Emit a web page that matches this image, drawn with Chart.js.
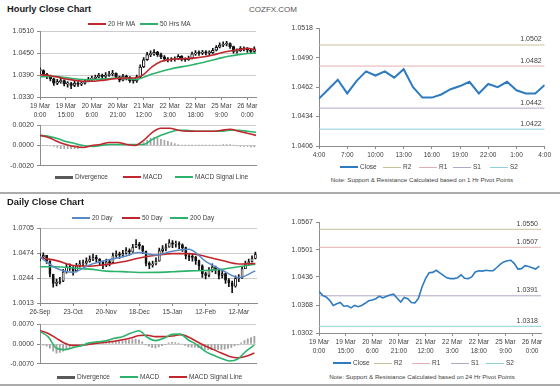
<!DOCTYPE html>
<html>
<head>
<meta charset="utf-8">
<script src="https://cdn.jsdelivr.net/npm/chart.js@4.4.1/dist/chart.umd.min.js"></script>
<style>
body { margin: 0; background: #fff; font-family: "Liberation Sans", Arial, sans-serif; }
#page { position: relative; width: 560px; height: 386px; overflow: hidden; }
canvas { position: absolute; }
.title { position: absolute; font-weight: bold; font-size: 9.3px; color: #1a1a1a; line-height: 10px; }
.brand { position: absolute; font-size: 8px; color: #555; line-height: 10px; }
.legend { position: absolute; font-size: 6.5px; color: #404040; line-height: 8px; height: 8px; }
.legend .it { position: absolute; top: 0; display: flex; align-items: center; height: 8px; white-space: nowrap; }
.legend .sw { display: inline-block; width: 18px; margin-right: 2px; }
.note { position: absolute; font-size: 6.2px; color: #404040; white-space: nowrap; transform: translateX(-50%); line-height: 8px; }
.sep { position: absolute; left: 0; width: 560px; height: 2px; background: #ababab; }
</style>
</head>
<body>
<div id="page">
  <div class="title" style="left:7px;top:4px">Hourly Close Chart</div>
  <div class="brand" style="left:249px;top:5px">COZFX.COM</div>
  <canvas id="cA" width="262" height="96" style="left:0;top:24px"></canvas>
  <canvas id="cA2" width="262" height="55" style="left:0;top:118px"></canvas>
  <canvas id="cB" width="283" height="139" style="left:270px;top:21px"></canvas>
  <div class="sep" style="top:192px"></div>
  <div class="title" style="left:7px;top:197px">Daily Close Chart</div>
  <canvas id="cC" width="262" height="96" style="left:0;top:221px"></canvas>
  <canvas id="cC2" width="262" height="54" style="left:0;top:317px"></canvas>
  <canvas id="cD" width="279" height="141" style="left:270px;top:215px"></canvas>
  <div class="note" style="left:422px;top:176px">Note: Support &amp; Resistance Calculated based on 1 Hr Pivot Points</div>
  <div class="note" style="left:422px;top:373px">Note: Support &amp; Resistance Calculated based on 24 Hr Pivot Points</div>
  <div class="sep" style="top:384px"></div>
</div>
<script>
"use strict";

// 時間足（2時間ごと、19 Mar 0:00 起点）
const hourStep = 2;
const hourClose = [1.0402, 1.0392, 1.0388, 1.0380, 1.0368, 1.0372, 1.0375, 1.0366, 1.0367, 1.0362,
    1.0368, 1.0365, 1.0368, 1.0373, 1.0379, 1.0381, 1.0384, 1.0390, 1.0386, 1.0390,
    1.0393, 1.0395, 1.0385, 1.0376, 1.0387, 1.0384, 1.0375, 1.0374, 1.0385, 1.0412,
    1.0432, 1.0446, 1.0447, 1.0452, 1.0446, 1.0440, 1.0434, 1.0432, 1.0432, 1.0434,
    1.0441, 1.0433, 1.0432, 1.0436, 1.0448, 1.0451, 1.0450, 1.0452, 1.0451, 1.0451,
    1.0458, 1.0466, 1.0472, 1.0475, 1.0476, 1.0468, 1.0455, 1.0456, 1.0463, 1.0461,
    1.0458, 1.0455, 1.0462];
const hourHigh = [1.0410, 1.0404, 1.0395, 1.0390, 1.0382, 1.0378, 1.0381, 1.0377, 1.0372, 1.0370,
    1.0374, 1.0372, 1.0373, 1.0378, 1.0384, 1.0387, 1.0390, 1.0395, 1.0393, 1.0397,
    1.0400, 1.0403, 1.0396, 1.0387, 1.0392, 1.0390, 1.0386, 1.0380, 1.0390, 1.0418,
    1.0438, 1.0452, 1.0456, 1.0460, 1.0455, 1.0450, 1.0443, 1.0438, 1.0438, 1.0440,
    1.0446, 1.0443, 1.0437, 1.0442, 1.0453, 1.0457, 1.0456, 1.0458, 1.0457, 1.0456,
    1.0463, 1.0471, 1.0478, 1.0481, 1.0482, 1.0478, 1.0469, 1.0462, 1.0468, 1.0467,
    1.0465, 1.0462, 1.0467];
const hourLow = [1.0394, 1.0386, 1.0380, 1.0374, 1.0362, 1.0364, 1.0368, 1.0360, 1.0357, 1.0353,
    1.0358, 1.0359, 1.0361, 1.0365, 1.0371, 1.0375, 1.0378, 1.0382, 1.0380, 1.0383,
    1.0386, 1.0388, 1.0380, 1.0371, 1.0374, 1.0377, 1.0370, 1.0368, 1.0370, 1.0383,
    1.0410, 1.0430, 1.0440, 1.0444, 1.0441, 1.0435, 1.0429, 1.0426, 1.0427, 1.0428,
    1.0432, 1.0429, 1.0427, 1.0430, 1.0434, 1.0444, 1.0444, 1.0446, 1.0445, 1.0446,
    1.0449, 1.0456, 1.0464, 1.0468, 1.0470, 1.0463, 1.0450, 1.0450, 1.0455, 1.0456,
    1.0452, 1.0449, 1.0452];
// 移動平均・MACD（5時間ごと）
const lineStep = 5;
const hourMa20 = [1.0391, 1.0389, 1.0385, 1.0379, 1.0376, 1.0373, 1.0373, 1.0375, 1.0378, 1.0381,
    1.0382, 1.0382, 1.0392, 1.0413, 1.0427, 1.0432, 1.0434, 1.0435, 1.0437, 1.0440,
    1.0445, 1.0451, 1.0456, 1.0460, 1.0463, 1.0459];
const hourMa50 = [1.0385, 1.0386, 1.0386, 1.0383, 1.0380, 1.0378, 1.0377, 1.0379, 1.0380, 1.0382,
    1.0381, 1.0378, 1.0384, 1.0393, 1.0400, 1.0406, 1.0411, 1.0415, 1.0420, 1.0425,
    1.0431, 1.0437, 1.0442, 1.0446, 1.0449, 1.0450];
const hourMacd = [0.0010, 0.0008, 0.0004, 0.0001, -0.0001, -0.0002, 0.0000, 0.0001, 0.0003, 0.0003,
    0.0001, 0.0000, 0.0005, 0.0013, 0.0017, 0.0017, 0.0015, 0.0014, 0.0014, 0.0014,
    0.0014, 0.0015, 0.0016, 0.0014, 0.0012, 0.0010];
const hourSignal = [0.0010, 0.0009, 0.0007, 0.0004, 0.0002, 0.0000, -0.0001, 0.0000, 0.0001, 0.0001,
    0.0001, 0.0001, 0.0001, 0.0006, 0.0010, 0.0013, 0.0015, 0.0015, 0.0014, 0.0014,
    0.0014, 0.0014, 0.0015, 0.0015, 0.0014, 0.0013];
// ダイバージェンス（2時間ごと）
const hourDiv = [0, 0, 0, -0.00005, -0.0001, -0.0002, -0.0003, -0.0003, -0.0003, -0.0003,
    -0.0003, -0.0003, -0.0002, -0.0001, 0, 0, 0.00005, 0.00005, 0.00005, 0.0001,
    0.0001, 0.0001, 0.00005, 0.00005, 0, 0, 0, 0, 0, 0.0001,
    0.0003, 0.0005, 0.0007, 0.0008, 0.0007, 0.0006, 0.0005, 0.0004, 0.0003, 0.0002,
    0.0001, 0.00005, 0.00003, 0.00003, 0.00003, 0.00003, 0.00003, 0.00003, 0.00003, 0.00003,
    0.00003, 0.00003, 0.00005, 0.0001, 0.0001, 0.0001, 0.00005, -0.00005, -0.0001, -0.0001,
    -0.0001, -0.00015, -0.00015];
const hourTickPos = [0, 15, 30, 45, 60, 75, 90, 105, 120];
const hourTickText = [['19 Mar', '0:00'], ['19 Mar', '15:00'], ['20 Mar', '6:00'], ['20 Mar', '21:00'],
    ['21 Mar', '12:00'], ['22 Mar', '3:00'], ['22 Mar', '18:00'], ['25 Mar', '9:00'], ['26 Mar', '0:00']];
const hourPriceTicks = [1.0330, 1.0390, 1.0450, 1.0510];
const hourMacdTicks = [-0.0020, 0.0000, 0.0020];

// 直近24時間（1時間ごと）と1時間ピボット
const lastDayClose = [1.0451, 1.0460, 1.0469, 1.0456, 1.0468, 1.0477, 1.0473, 1.0477, 1.0471, 1.0479,
    1.0462, 1.0452, 1.0452, 1.0455, 1.0460, 1.0463, 1.0467, 1.0456, 1.0465, 1.0462,
    1.0467, 1.0459, 1.0456, 1.0456, 1.0464];
const lastDayTickPos = [0, 3, 6, 9, 12, 15, 18, 21, 24];
const lastDayTickText = ['4:00', '7:00', '10:00', '13:00', '16:00', '19:00', '22:00', '1:00', '4:00'];
const lastDayPriceTicks = [1.0406, 1.0434, 1.0462, 1.0490, 1.0518];
const pivotNames = ['R2', 'R1', 'S1', 'S2'];
const pivotColors = ['#c9c19a', '#e2b0b0', '#b3a6c6', '#8ecfe0'];
const pivot1h = [1.0502, 1.0482, 1.0442, 1.0422];
const pivot24h = [1.0550, 1.0507, 1.0391, 1.0318];
const pivotPriceTicks = [1.0302, 1.0368, 1.0436, 1.0501, 1.0567];

// 日足（2日ごと）
const dayStep = 2;
const dayClose = [1.0438, 1.0453, 1.0405, 1.0280, 1.0195, 1.0200, 1.0215, 1.0300, 1.0345, 1.0340,
    1.0310, 1.0355, 1.0376, 1.0383, 1.0398, 1.0418, 1.0436, 1.0420, 1.0390, 1.0363,
    1.0393, 1.0386, 1.0450, 1.0466, 1.0455, 1.0472, 1.0498, 1.0485, 1.0530, 1.0555,
    1.0540, 1.0495, 1.0380, 1.0363, 1.0374, 1.0400, 1.0498, 1.0513, 1.0530, 1.0570,
    1.0558, 1.0562, 1.0550, 1.0525, 1.0450, 1.0438, 1.0435, 1.0405, 1.0358, 1.0285,
    1.0268, 1.0315, 1.0345, 1.0318, 1.0268, 1.0285, 1.0225, 1.0200, 1.0168, 1.0240,
    1.0245, 1.0330, 1.0375, 1.0393, 1.0425, 1.0462];
const dayHigh = [1.0470, 1.0478, 1.0455, 1.0370, 1.0260, 1.0235, 1.0250, 1.0325, 1.0370, 1.0375,
    1.0350, 1.0380, 1.0405, 1.0410, 1.0430, 1.0450, 1.0465, 1.0455, 1.0425, 1.0400,
    1.0420, 1.0415, 1.0475, 1.0495, 1.0485, 1.0500, 1.0525, 1.0515, 1.0555, 1.0600,
    1.0575, 1.0545, 1.0490, 1.0395, 1.0400, 1.0430, 1.0520, 1.0545, 1.0560, 1.0600,
    1.0590, 1.0585, 1.0580, 1.0560, 1.0530, 1.0470, 1.0465, 1.0445, 1.0410, 1.0365,
    1.0300, 1.0340, 1.0375, 1.0355, 1.0320, 1.0315, 1.0290, 1.0240, 1.0215, 1.0265,
    1.0275, 1.0350, 1.0400, 1.0420, 1.0450, 1.0485];
const dayLow = [1.0405, 1.0420, 1.0380, 1.0255, 1.0160, 1.0170, 1.0190, 1.0210, 1.0290, 1.0315,
    1.0270, 1.0300, 1.0345, 1.0355, 1.0370, 1.0390, 1.0405, 1.0395, 1.0360, 1.0330,
    1.0350, 1.0355, 1.0380, 1.0435, 1.0425, 1.0440, 1.0465, 1.0455, 1.0480, 1.0525,
    1.0510, 1.0470, 1.0355, 1.0330, 1.0345, 1.0365, 1.0400, 1.0480, 1.0495, 1.0530,
    1.0525, 1.0530, 1.0515, 1.0490, 1.0420, 1.0405, 1.0400, 1.0370, 1.0320, 1.0250,
    1.0235, 1.0255, 1.0300, 1.0285, 1.0235, 1.0245, 1.0195, 1.0165, 1.0108, 1.0160,
    1.0210, 1.0240, 1.0330, 1.0360, 1.0390, 1.0420];
// 日足移動平均（10日ごと）
const dayMaStep = 10;
const day20 = [1.0438, 1.0335, 1.0298, 1.0366, 1.0408, 1.0440, 1.0480, 1.0458, 1.0492, 1.0510, 1.0398, 1.0316, 1.0248, 1.0310];
const day50 = [1.0432, 1.0405, 1.0360, 1.0354, 1.0368, 1.0394, 1.0430, 1.0454, 1.0470, 1.0470, 1.0444, 1.0406, 1.0374, 1.0378];
const day200 = [1.0348, 1.0348, 1.0337, 1.0326, 1.0308, 1.0303, 1.0295, 1.0296, 1.0302, 1.0310, 1.0313, 1.0325, 1.0348, 1.0372];
// 日足MACD（5日ごと）
const dayMacdStep = 5;
const dayMacd = [0.0044, 0.0025, -0.0015, -0.0020, -0.0013, -0.0006, 0.0004, 0.0008, 0.0011, 0.0020,
    0.0026, 0.0038, 0.0047, 0.0024, 0.0012, 0.0020, 0.0034, 0.0035, 0.0014, -0.0002,
    -0.0025, -0.0039, -0.0051, -0.0060, -0.0053, -0.0025, -0.0004];
const daySignal = [0.0047, 0.0037, 0.0020, 0.0003, -0.0005, -0.0005, -0.0001, 0.0003, 0.0006, 0.0010,
    0.0015, 0.0021, 0.0030, 0.0031, 0.0026, 0.0026, 0.0028, 0.0033, 0.0025, 0.0009,
    -0.0006, -0.0019, -0.0032, -0.0044, -0.0049, -0.0043, -0.0032];
const dayDiv = [-0.0003, -0.0004, -0.0008, -0.0015, -0.0025, -0.0032, -0.0030, -0.0025, -0.0018, -0.0012,
    -0.0008, -0.0005, -0.0002, 0.0000, 0.0003, 0.0005, 0.0005, 0.0005, 0.0005, 0.0005,
    0.0005, 0.0007, 0.0009, 0.0010, 0.0011, 0.0011, 0.0013, 0.0015, 0.0016, 0.0017,
    0.0015, 0.0008, -0.0003, -0.0008, -0.0012, -0.0014, -0.0010, -0.0006, -0.0001, 0.0004,
    0.0006, 0.0005, 0.0003, 0.0000, -0.0005, -0.0010, -0.0011, -0.0011, -0.0013, -0.0017,
    -0.0019, -0.0020, -0.0020, -0.0019, -0.0019, -0.0019, -0.0018, -0.0016, -0.0012, -0.0007,
    -0.0003, 0.0004, 0.0012, 0.0018, 0.0023, 0.0027];
const dayTickPos = [0, 20, 40, 60, 80, 100, 120];
const dayTickText = ['26-Sep', '23-Oct', '20-Nov', '18-Dec', '15-Jan', '12-Feb', '12-Mar'];
const dayPriceTicks = [1.0013, 1.0244, 1.0474, 1.0705];
const dayMacdTicks = [-0.0070, 0.0000, 0.0070];

const FONT = '"Liberation Sans", Arial, sans-serif';
const RED = '#c0272d';
const GREEN = '#2cb36b';
const BLUE = '#5a8ac6';
const CLOSE_BLUE = '#2e7bc0';
const AXIS = '#8c8c8c';
Chart.defaults.font.family = FONT;
Chart.defaults.color = '#404040';
Chart.defaults.animation = false;

const pts = (values, step) => values.map((v, i) => ({ x: i * step, y: v }));

function yAxis(ticks, width, grid) {
    return {
        min: ticks[0],
        max: ticks[ticks.length - 1],
        afterBuildTicks: s => { s.ticks = ticks.map(v => ({ value: v })); },
        afterFit: s => { s.width = width; },
        ticks: { font: { size: 7 }, padding: 3, callback: v => v.toFixed(4) },
        grid: { drawOnChartArea: grid, color: '#cccccc', tickLength: 3, tickColor: AXIS },
        border: { color: AXIS }
    };
}

function xAxis(max, pos, text, height) {
    const show = text !== null;
    return {
        type: 'linear',
        min: 0,
        max: max,
        offset: false,
        afterBuildTicks: s => { s.ticks = (show ? pos : []).map(v => ({ value: v })); },
        afterFit: s => { s.height = height; },
        ticks: {
            display: show, font: { size: 6.5, lineHeight: 1.4 }, padding: 2,
            maxRotation: 0, autoSkip: false, callback: (v, i) => text[i]
        },
        grid: { drawOnChartArea: false, drawTicks: show, tickLength: 3, tickColor: AXIS, offset: false },
        border: { color: AXIS }
    };
}

// ローソク足（実体は前回終値から終値まで）
function candles(close, high, low, step, thick, border) {
    const up = c => close[c.dataIndex] >= close[Math.max(c.dataIndex - 1, 0)];
    return [
        {
            type: 'bar', order: 1, grouped: false, barThickness: thick, minBarLength: 1,
            data: close.map((v, i) => ({ x: i * step, y: [close[Math.max(i - 1, 0)], v] })),
            backgroundColor: c => up(c) ? '#ffffff' : '#111111',
            borderColor: '#111111', borderWidth: border, borderSkipped: false
        },
        {
            type: 'bar', order: 2, grouped: false, barThickness: 1,
            data: close.map((v, i) => ({ x: i * step, y: [low[i], high[i]] })),
            backgroundColor: '#111111'
        }
    ];
}

function line(values, step, color, width, smooth) {
    return {
        type: 'line', order: 0, data: pts(values, step), borderColor: color, borderWidth: width,
        pointRadius: 0, cubicInterpolationMode: smooth ? 'monotone' : 'default', tension: 0
    };
}

function divergence(values, step, thick) {
    return {
        type: 'bar', order: 3, grouped: false, barThickness: thick,
        data: pts(values, step), backgroundColor: '#a3a3a3'
    };
}

function levels(values, maxX) {
    return values.map((v, i) => ({
        type: 'line', order: 1, data: [{ x: 0, y: v }, { x: maxX, y: v }],
        borderColor: pivotColors[i], borderWidth: 1, pointRadius: 0
    }));
}

// ピボット値のラベル
const pivotLabels = {
    id: 'pivotLabels',
    afterDatasetsDraw(chart, args, opts) {
        const { ctx, chartArea } = chart;
        const y = chart.scales.y;
        ctx.save();
        ctx.font = '7px ' + FONT;
        ctx.fillStyle = '#404040';
        ctx.textAlign = 'right';
        ctx.textBaseline = 'bottom';
        opts.levels.forEach(v => ctx.fillText(v.toFixed(4), chartArea.right - 3, y.getPixelForValue(v) - 2));
        ctx.restore();
    }
};

function create(id, datasets, scales, padding, extra) {
    const options = {
        responsive: false,
        maintainAspectRatio: false,
        layout: { padding: padding },
        plugins: Object.assign({ legend: { display: false }, tooltip: { enabled: false } }, extra || {}),
        scales: scales
    };
    return new Chart(document.getElementById(id), {
        type: 'line',
        data: { datasets: datasets },
        options: options,
        plugins: extra ? [pivotLabels] : []
    });
}

// 時間足チャート
create('cA', [
    line(hourMa20, lineStep, RED, 1.6, true),
    line(hourMa50, lineStep, GREEN, 1.6, true),
    ...candles(hourClose, hourHigh, hourLow, hourStep, 2.8, 1)
], {
    x: xAxis(125, hourTickPos, hourTickText, 23),
    y: yAxis(hourPriceTicks, 40, true)
}, { top: 6, right: 6, bottom: 0, left: 0 });

create('cA2', [
    line(hourMacd, lineStep, RED, 1.6, true),
    line(hourSignal, lineStep, GREEN, 1.6, true),
    divergence(hourDiv, hourStep, 1)
], {
    x: xAxis(125, [], null, 0),
    y: yAxis(hourMacdTicks, 40, true)
}, { top: 6, right: 6, bottom: 4, left: 0 });

// 1時間ピボット
create('cB', [
    Object.assign(line(lastDayClose, 1, CLOSE_BLUE, 2, false), { order: 0 }),
    ...levels(pivot1h, 24)
], {
    x: xAxis(24, lastDayTickPos, lastDayTickText, 14),
    y: yAxis(lastDayPriceTicks, 49, false)
}, { top: 6, right: 8, bottom: 0, left: 0 }, { pivotLabels: { levels: pivot1h } });

// 日足チャート
create('cC', [
    line(day20, dayMaStep, BLUE, 1.5, true),
    line(day50, dayMaStep, RED, 1.6, true),
    line(day200, dayMaStep, GREEN, 1.6, true),
    ...candles(dayClose, dayHigh, dayLow, dayStep, 2.2, 0.9)
], {
    x: xAxis(131, dayTickPos, dayTickText, 14),
    y: yAxis(dayPriceTicks, 40, true)
}, { top: 6, right: 5, bottom: 0, left: 0 });

create('cC2', [
    line(dayMacd, dayMacdStep, GREEN, 1.6, true),
    line(daySignal, dayMacdStep, RED, 1.6, true),
    divergence(dayDiv, dayStep, 1.2)
], {
    x: xAxis(131, [], null, 0),
    y: yAxis(dayMacdTicks, 40, true)
}, { top: 6, right: 6, bottom: 4, left: 0 });

// 24時間ピボット
create('cD', [
    Object.assign(line(hourClose, hourStep, CLOSE_BLUE, 1.6, false), { order: 0 }),
    ...levels(pivot24h, 125)
], {
    x: xAxis(125, hourTickPos, hourTickText, 23),
    y: yAxis(pivotPriceTicks, 49, false)
}, { top: 6, right: 8, bottom: 0, left: 0 }, { pivotLabels: { levels: pivot24h } });

// 凡例
function legend(top, items) {
    const box = document.createElement('div');
    box.className = 'legend';
    box.style.left = '0px';
    box.style.top = (top - 4) + 'px';
    items.forEach(([x, label, color, thick]) => {
        const it = document.createElement('div');
        it.className = 'it';
        it.style.left = x + 'px';
        const sw = document.createElement('span');
        sw.className = 'sw';
        sw.style.height = thick + 'px';
        sw.style.background = color;
        it.appendChild(sw);
        it.appendChild(document.createTextNode(label));
        box.appendChild(it);
    });
    document.getElementById('page').appendChild(box);
}
const pivotLegend = (xs, top) => legend(top, [[xs[0], 'Close', CLOSE_BLUE, 2.5]]
    .concat(pivotNames.map((n, i) => [xs[i + 1], n, pivotColors[i], 1])));

legend(24, [[88, '20 Hr MA', RED, 2], [140, '50 Hrs MA', GREEN, 2]]);
legend(177, [[55, 'Divergence', '#595959', 3], [123, 'MACD', RED, 2], [175, 'MACD Signal Line', GREEN, 2]]);
pivotLegend([340, 383, 419, 453, 490], 167);
legend(218, [[72, '20 Day', BLUE, 2], [122, '50 Day', RED, 2], [170, '200 Day', GREEN, 2]]);
legend(377, [[57, 'Divergence', '#595959', 3], [120, 'MACD', GREEN, 2], [169, 'MACD Signal Line', RED, 2]]);
pivotLegend([333, 374, 412, 451, 486], 363);
</script>
</body>
</html>
